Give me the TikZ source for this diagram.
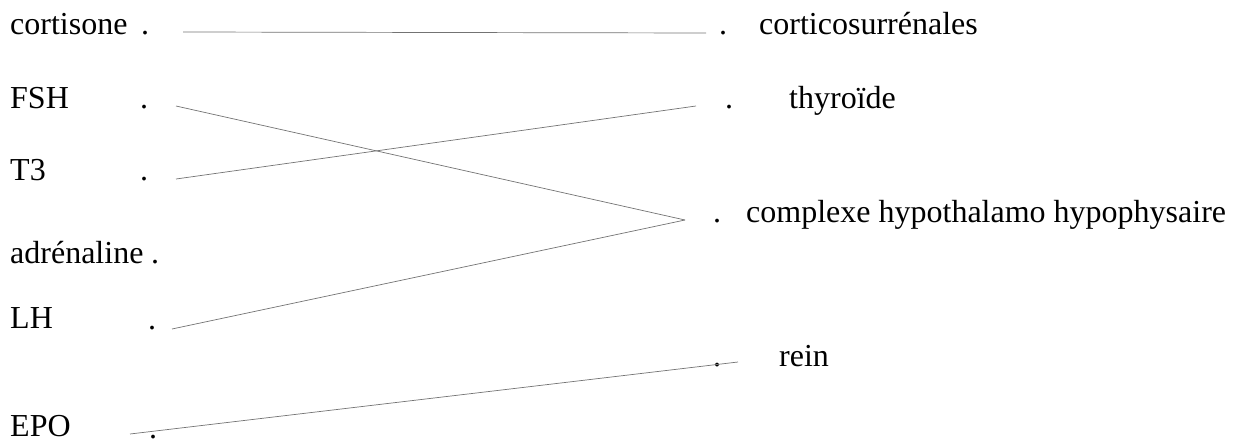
\documentclass[tikz,border=0pt]{standalone}
\usepackage{fontspec}
\setmainfont{Liberation Serif}
\usetikzlibrary{positioning}

\begin{document}
\begin{tikzpicture}[x=1pt,y=-1pt,
    lbl/.style={anchor=base west, inner sep=0pt, font=\fontsize{32}{36}\selectfont},
    pnt/.style={anchor=base, inner sep=0pt, font=\fontsize{32}{36}\selectfont},
    link/.style={draw=black!55, line width=0.7pt}]
    \useasboundingbox (0,0) rectangle (1236,444);

    % hormones
    \node[lbl] (cortisone) at (10,35) {cortisone};
    \node[lbl] (fsh) at (10,108) {FSH};
    \node[lbl] (t3) at (10,180) {T3};
    \node[lbl] (adrenaline) at (10,263) {adrénaline};
    \node[lbl] (lh) at (10,328) {LH};
    \node[lbl] (epo) at (10,436) {EPO};

    \node[pnt] (cortisoneDot) at (145,35) {.};
    \node[pnt] (fshDot) at (144,108) {.};
    \node[pnt] (t3Dot) at (144,180) {.};
    \node[pnt] (adrenalineDot) at (155,263) {.};
    \node[pnt] (lhDot) at (152,329) {.};
    \node[pnt] (epoDot) at (153,438) {.};

    % glandes
    \node[pnt] (corticoDot) at (723,35) {.};
    \node[pnt] (thyroDot) at (729,108) {.};
    \node[pnt] (hhDot) at (717,222) {.};
    \node[pnt] (reinDot) at (717,366) {.};

    \node[lbl] (cortico) at (759,35) {corticosurrénales};
    \node[lbl] (thyro) at (789,108) {thyroïde};
    \node[lbl] (hh) at (746,222) {complexe hypothalamo hypophysaire};
    \node[lbl] (rein) at (779,366) {rein};

    % bouts des traits
    \coordinate (cortisoneA) at (183,32);
    \coordinate (corticoA) at (706,33);
    \coordinate (fshA) at (176,106);
    \coordinate (t3A) at (176,179);
    \coordinate (lhA) at (172,329);
    \coordinate (epoA) at (130,434);
    \coordinate (thyroA) at (696,106);
    \coordinate (hhA) at (685,220);
    \coordinate (reinA) at (738,362);

    \draw[link] (cortisoneA) -- (corticoA);
    \draw[link] (fshA) -- (hhA);
    \draw[link] (t3A) -- (thyroA);
    \draw[link] (lhA) -- (hhA);
    \draw[link] (epoA) -- (reinA);
\end{tikzpicture}
\end{document}
